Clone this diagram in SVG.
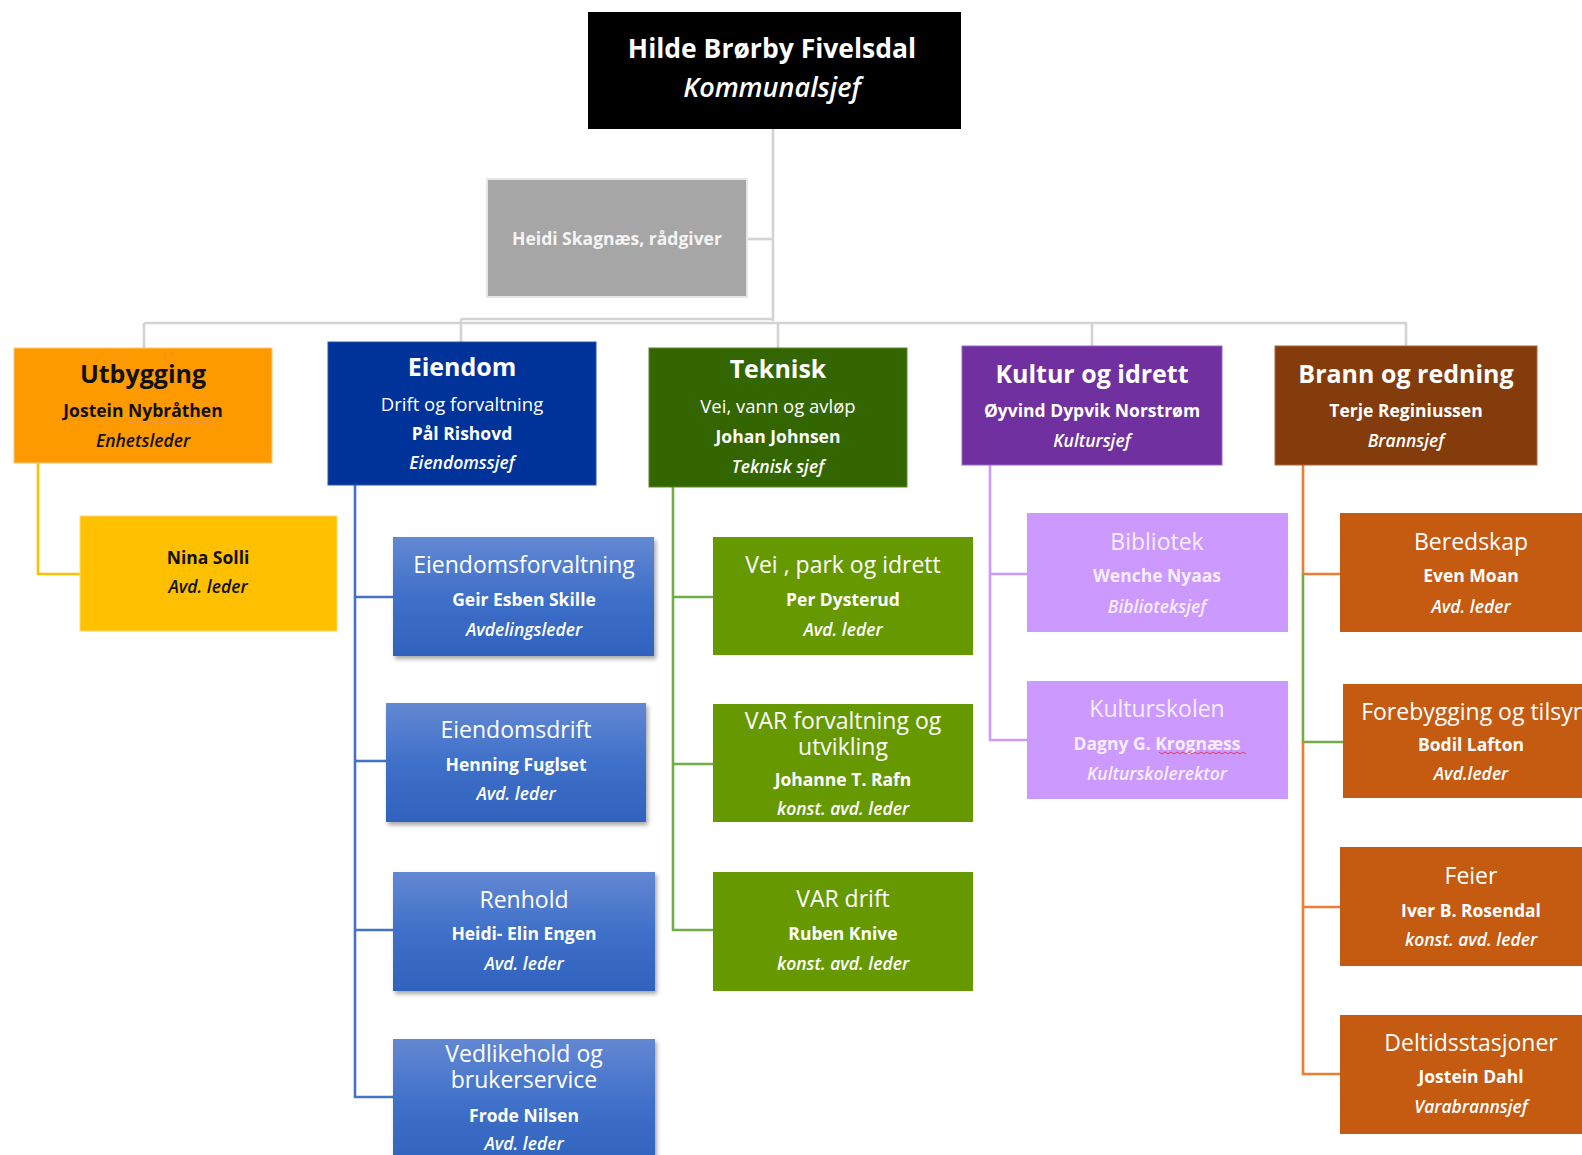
<svg xmlns="http://www.w3.org/2000/svg" width="1582" height="1155" viewBox="0 0 1582 1155">
<defs>
<style>
text{font-family:"Open Sans","Liberation Sans",sans-serif;text-anchor:middle;fill:#ffffff}
.t0{font-size:26.5px;font-weight:bold}
.t0i{font-size:27px;font-style:italic;font-weight:600}
.h1{font-size:25px;font-weight:bold}
.s1{font-size:17.5px;font-weight:bold}
.r1{font-size:18.5px}
.i1{font-size:17.5px;font-style:italic;font-weight:600}
.h2{font-size:23px}
.s2{font-size:17.5px;font-weight:bold}
.i2{font-size:17.5px;font-style:italic;font-weight:600}
.dark{fill:#111111}
.lav{fill:#f6eeff}
.conn{fill:none;stroke-width:2.6}
</style>
<linearGradient id="blueGrad" x1="0" y1="0" x2="0" y2="1">
<stop offset="0" stop-color="#6388d3"/>
<stop offset="0.5" stop-color="#3f70c9"/>
<stop offset="1" stop-color="#2f62bd"/>
</linearGradient>
<filter id="shadow" x="-5%" y="-5%" width="115%" height="120%">
<feDropShadow dx="2" dy="3" stdDeviation="2" flood-color="#000000" flood-opacity="0.35"/>
</filter>
</defs>

<g id="connectors">
<g stroke="#d3d3d3" class="conn" stroke-width="3">
<path d="M773,129 V321"/>
<path d="M747,239 H773"/>
<path d="M461,319 H773"/>
<path d="M144,323 H1407"/>
<path d="M144,323 V348"/>
<path d="M461,319 V342"/>
<path d="M778,323 V348"/>
<path d="M1092,323 V346"/>
<path d="M1406,323 V346"/>
</g>
<path class="conn" stroke="#ffc000" d="M38,463 V574 H80"/>
<g stroke="#4472c4" class="conn">
<path d="M355,485 V1097 H393"/>
<path d="M355,597 H393"/>
<path d="M355,761 H386"/>
<path d="M355,930 H393"/>
</g>
<g stroke="#70ad47" class="conn">
<path d="M673,487 V930 H713"/>
<path d="M673,597 H713"/>
<path d="M673,764 H713"/>
</g>
<g stroke="#cc99ff" class="conn">
<path d="M990,465 V740 H1027"/>
<path d="M990,574 H1027"/>
</g>
<path class="conn" stroke="#ed7d31" d="M1303,465 V574 H1340"/>
<path class="conn" stroke="#70ad47" d="M1303,574 V742 H1343"/>
<g stroke="#ed7d31" class="conn">
<path d="M1303,742 V1074 H1340"/>
<path d="M1303,907 H1340"/>
</g>
</g>

<g id="kommunalsjef">
<rect x="588" y="12" width="373" height="117" fill="#000000"/>
<text class="t0" x="772" y="58">Hilde Brørby Fivelsdal</text>
<text class="t0i" x="772" y="97">Kommunalsjef</text>
</g>

<g id="radgiver">
<rect x="487" y="179" width="260" height="118" fill="#a6a6a6" stroke="#e6e6e6" stroke-width="2"/>
<text class="s1" x="617" y="245" style="fill:#f4f4f4">Heidi Skagnæs, rådgiver</text>
</g>

<g id="utbygging">
<rect x="14" y="348" width="258" height="115" fill="#fd9a00" stroke="#ffc87a" stroke-width="1"/>
<text class="h1 dark" x="143" y="383">Utbygging</text>
<text class="s1 dark" x="143" y="417">Jostein Nybråthen</text>
<path d="M128,421 l3,2 l3,-2 l3,2 l3,-2 l3,2 l3,-2 l3,2 l3,-2 l3,2 l3,-2 l3,2 l3,-2 l3,2 l3,-2 l3,2 l3,-2 l3,2 l3,-2 l3,2 l3,-2 l3,2 l3,-2 l3,2 l3,-2 l3,2 l3,-2 l3,2 l3,-2 l3,2" fill="none" stroke="#ec8aa4" stroke-width="0.7"/>
<text class="i1 dark" x="143" y="447">Enhetsleder</text>
</g>

<g id="nina">
<rect x="80" y="516" width="257" height="115" fill="#ffc000" stroke="#ffd966" stroke-width="1"/>
<text class="s2 dark" x="208" y="564">Nina Solli</text>
<text class="i2 dark" x="208" y="593">Avd. leder</text>
</g>

<g id="eiendom">
<rect x="328" y="342" width="268" height="143" fill="#003399" stroke="#2a55b0" stroke-width="1"/>
<text class="h1" x="462" y="376">Eiendom</text>
<text class="r1" x="462" y="411">Drift og forvaltning</text>
<text class="s1" x="462" y="440">Pål Rishovd</text>
<text class="i1" x="462" y="469">Eiendomssjef</text>
</g>

<g id="eiendomsforvaltning">
<rect x="393" y="537" width="261" height="119" fill="url(#blueGrad)" filter="url(#shadow)"/>
<text class="h2" x="524" y="573">Eiendomsforvaltning</text>
<text class="s2" x="524" y="606">Geir Esben Skille</text>
<text class="i2" x="524" y="636">Avdelingsleder</text>
</g>

<g id="eiendomsdrift">
<rect x="386" y="703" width="260" height="119" fill="url(#blueGrad)" filter="url(#shadow)"/>
<text class="h2" x="516" y="738">Eiendomsdrift</text>
<text class="s2" x="516" y="771">Henning Fuglset</text>
<text class="i2" x="516" y="800">Avd. leder</text>
</g>

<g id="renhold">
<rect x="393" y="872" width="262" height="119" fill="url(#blueGrad)" filter="url(#shadow)"/>
<text class="h2" x="524" y="908">Renhold</text>
<text class="s2" x="524" y="940">Heidi- Elin Engen</text>
<text class="i2" x="524" y="970">Avd. leder</text>
</g>

<g id="vedlikehold">
<rect x="393" y="1039" width="262" height="130" fill="url(#blueGrad)" filter="url(#shadow)"/>
<text class="h2" x="524" y="1062">Vedlikehold og<tspan x="524" dy="26">brukerservice</tspan></text>
<text class="s2" x="524" y="1122">Frode Nilsen</text>
<text class="i2" x="524" y="1150">Avd. leder</text>
</g>

<g id="teknisk">
<rect x="649" y="348" width="258" height="139" fill="#336600" stroke="#5a8a30" stroke-width="1"/>
<text class="h1" x="778" y="378">Teknisk</text>
<text class="r1" x="778" y="413">Vei, vann og avløp</text>
<text class="s1" x="778" y="443">Johan Johnsen</text>
<text class="i1" x="778" y="473">Teknisk sjef</text>
</g>

<g id="vei-park">
<rect x="713" y="537" width="260" height="118" fill="#669900"/>
<text class="h2" x="843" y="573">Vei , park og idrett</text>
<text class="s2" x="843" y="606">Per Dysterud</text>
<text class="i2" x="843" y="636">Avd. leder</text>
</g>

<g id="var-forvaltning">
<rect x="713" y="704" width="260" height="118" fill="#669900"/>
<text class="h2" x="843" y="729">VAR forvaltning og<tspan x="843" dy="26">utvikling</tspan></text>
<text class="s2" x="843" y="786">Johanne T. Rafn</text>
<text class="i2" x="843" y="815">konst. avd. leder</text>
</g>

<g id="var-drift">
<rect x="713" y="872" width="260" height="119" fill="#669900"/>
<text class="h2" x="843" y="907">VAR drift</text>
<text class="s2" x="843" y="940">Ruben Knive</text>
<text class="i2" x="843" y="970">konst. avd. leder</text>
</g>

<g id="kultur">
<rect x="962" y="346" width="260" height="119" fill="#7030a0" stroke="#9a66c4" stroke-width="1"/>
<text class="h1" x="1092" y="383">Kultur og idrett</text>
<text class="s1" x="1092" y="417">Øyvind Dypvik Norstrøm</text>
<text class="i1" x="1092" y="447">Kultursjef</text>
</g>

<g id="bibliotek">
<rect x="1027" y="513" width="261" height="119" fill="#cc99ff"/>
<text class="h2 lav" x="1157" y="550">Bibliotek</text>
<text class="s2 lav" x="1157" y="582">Wenche Nyaas</text>
<text class="i2 lav" x="1157" y="613">Biblioteksjef</text>
</g>

<g id="kulturskolen">
<rect x="1027" y="681" width="261" height="118" fill="#cc99ff"/>
<text class="h2 lav" x="1157" y="717">Kulturskolen</text>
<text class="s2 lav" x="1157" y="750">Dagny G. Krognæss</text>
<path d="M1159,752 l3,2 l3,-2 l3,2 l3,-2 l3,2 l3,-2 l3,2 l3,-2 l3,2 l3,-2 l3,2 l3,-2 l3,2 l3,-2 l3,2 l3,-2 l3,2 l3,-2 l3,2 l3,-2 l3,2 l3,-2 l3,2 l3,-2 l3,2 l3,-2 l3,2 l3,-2 l3,2" fill="none" stroke="#e0304a" stroke-width="0.9"/>
<text class="i2 lav" x="1157" y="780">Kulturskolerektor</text>
</g>

<g id="brann">
<rect x="1275" y="346" width="262" height="119" fill="#843c0c" stroke="#a8673c" stroke-width="1"/>
<text class="h1" x="1406" y="383">Brann og redning</text>
<text class="s1" x="1406" y="417">Terje Reginiussen</text>
<text class="i1" x="1406" y="447">Brannsjef</text>
</g>

<g id="beredskap">
<rect x="1340" y="513" width="262" height="119" fill="#c55a11"/>
<text class="h2" x="1471" y="550">Beredskap</text>
<text class="s2" x="1471" y="582">Even Moan</text>
<text class="i2" x="1471" y="613">Avd. leder</text>
</g>

<g id="forebygging">
<rect x="1343" y="684" width="262" height="114" fill="#c55a11"/>
<text class="h2" x="1474" y="720">Forebygging og tilsyn</text>
<text class="s2" x="1471" y="751">Bodil Lafton</text>
<text class="i2" x="1471" y="780">Avd.leder</text>
</g>

<g id="feier">
<rect x="1340" y="847" width="262" height="119" fill="#c55a11"/>
<text class="h2" x="1471" y="884">Feier</text>
<text class="s2" x="1471" y="917">Iver B. Rosendal</text>
<text class="i2" x="1471" y="946">konst. avd. leder</text>
</g>

<g id="deltidsstasjoner">
<rect x="1340" y="1015" width="262" height="119" fill="#c55a11"/>
<text class="h2" x="1471" y="1051">Deltidsstasjoner</text>
<text class="s2" x="1471" y="1083">Jostein Dahl</text>
<text class="i2" x="1471" y="1113">Varabrannsjef</text>
</g>
</svg>
